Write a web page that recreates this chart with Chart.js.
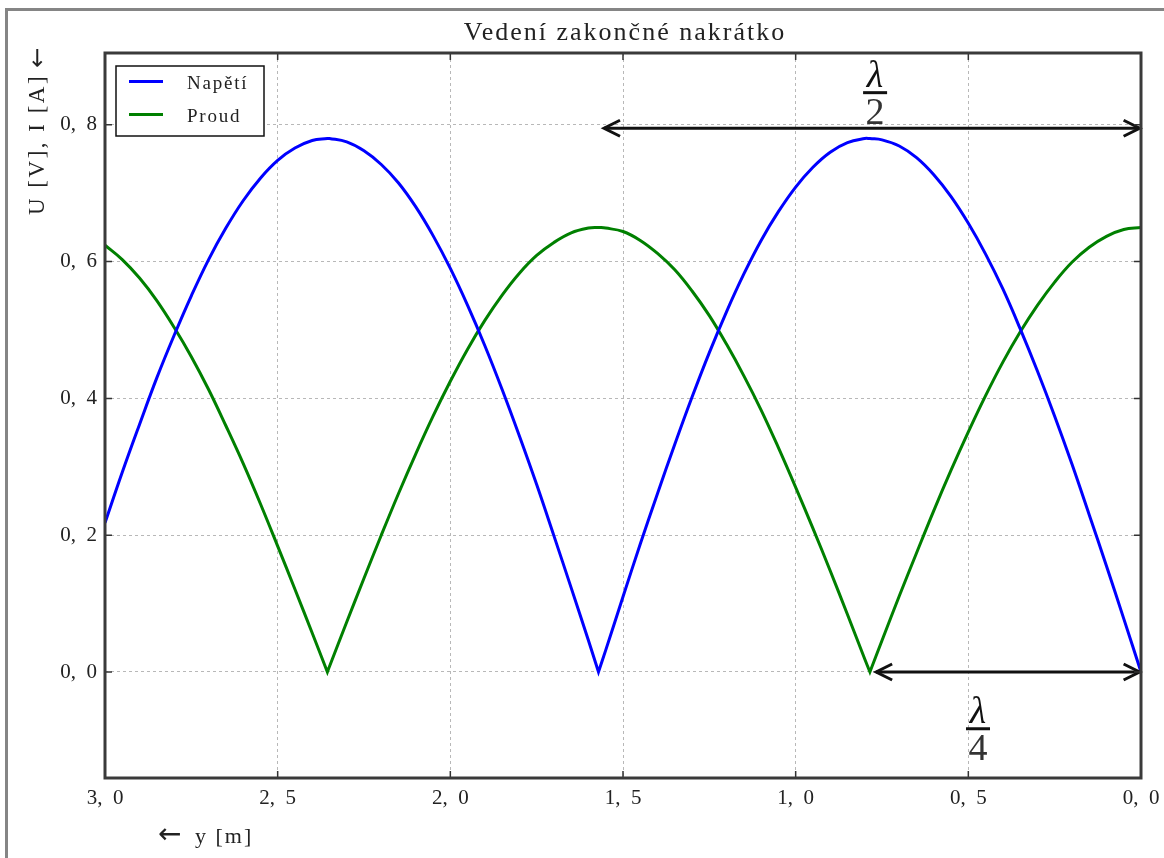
<!DOCTYPE html>
<html>
<head>
<script src="https://cdnjs.cloudflare.com/ajax/libs/Chart.js/4.4.1/chart.umd.min.js"></script>
<style>
  body { margin: 0; background: #fff; }
  #wrap { position: relative; width: 1164px; height: 858px; overflow: hidden; background: #fff; }
  #frame {
    position: absolute; left: 5px; top: 8px; width: 1200px; height: 900px;
    border-top: 3px solid #858585; border-left: 3px solid #858585; pointer-events: none;
  }
</style>
</head>
<body>
<div id="wrap">
  <canvas id="chart" width="1164" height="858"></canvas>
  <div id="frame"></div>
</div>
<script>
  // position along the line, y [m]; cusps are listed twice so the spline stays sharp there
  const positions = [
    0, 0.05, 0.1, 0.15, 0.2, 0.25, 0.3, 0.35, 0.4, 0.45, 0.5, 0.55, 0.6, 0.65, 0.7, 0.75,
    0.785, 0.785,
    0.8, 0.85, 0.9, 0.95, 1.0, 1.05, 1.1, 1.15, 1.2, 1.25, 1.3, 1.35, 1.4, 1.45, 1.5, 1.55,
    1.571, 1.571,
    1.6, 1.65, 1.7, 1.75, 1.8, 1.85, 1.9, 1.95, 2.0, 2.05, 2.1, 2.15, 2.2, 2.25, 2.3, 2.35,
    2.356, 2.356,
    2.4, 2.45, 2.5, 2.55, 2.6, 2.65, 2.7, 2.75, 2.8, 2.85, 2.9, 2.95, 3.0
  ];
  // Napětí [V]
  const voltage = [
    0.000, 0.078, 0.155, 0.230, 0.304, 0.374, 0.440, 0.502, 0.560, 0.611, 0.656, 0.695, 0.727, 0.752, 0.769, 0.778,
    0.780, 0.780,
    0.780, 0.774, 0.760, 0.738, 0.709, 0.673, 0.631, 0.582, 0.527, 0.467, 0.402, 0.333, 0.261, 0.187, 0.110, 0.032,
    0.000, 0.000,
    0.046, 0.123, 0.199, 0.274, 0.345, 0.413, 0.477, 0.536, 0.590, 0.638, 0.680, 0.715, 0.742, 0.762, 0.775, 0.780,
    0.780, 0.780,
    0.777, 0.766, 0.748, 0.722, 0.689, 0.649, 0.603, 0.550, 0.492, 0.430, 0.362, 0.292, 0.218
  ];
  // Proud [A]
  const current = [
    0.650, 0.647, 0.637, 0.621, 0.599, 0.570, 0.536, 0.497, 0.453, 0.404, 0.351, 0.295, 0.236, 0.174, 0.111, 0.046,
    0.000, 0.000,
    0.019, 0.084, 0.148, 0.210, 0.270, 0.328, 0.383, 0.433, 0.479, 0.521, 0.557, 0.588, 0.612, 0.631, 0.644, 0.649,
    0.650, 0.650,
    0.649, 0.642, 0.628, 0.609, 0.583, 0.551, 0.514, 0.472, 0.425, 0.374, 0.319, 0.261, 0.200, 0.137, 0.073, 0.008,
    0.000, 0.000,
    0.057, 0.121, 0.184, 0.246, 0.305, 0.360, 0.413, 0.461, 0.504, 0.543, 0.576, 0.603, 0.624
  ];
  const seriesNames = ['Napětí', 'Proud'];
  const seriesColors = ['#0000ff', '#008000'];
  const xTicks = [0, 0.5, 1.0, 1.5, 2.0, 2.5, 3.0];
  const yTicks = [0, 0.2, 0.4, 0.6, 0.8];

  // annotations in data units
  const halfArrow = { from: 1.555, to: 0.004, at: 0.795 };
  const quarterArrow = { from: 0.767, to: 0.004, at: 0.0 };
  const halfLabel = { x: 0.770, y: 0.847, den: '2' };
  const quarterLabel = { x: 0.472, y: -0.083, den: '4' };

  const serif = '"Liberation Serif", "DejaVu Serif", serif';
  const arrowFont = '"DejaVu Sans", sans-serif';
  const fmt = v => v.toFixed(1).replace('.', ',\u2002');

  function arrowHead(ctx, tx, ty, dir) {
    ctx.beginPath();
    ctx.moveTo(tx - dir * 16, ty - 8);
    ctx.lineTo(tx, ty);
    ctx.lineTo(tx - dir * 16, ty + 8);
    ctx.stroke();
  }

  function drawArrow(ctx, x, y, a) {
    const x1 = x.getPixelForValue(a.from), x2 = x.getPixelForValue(a.to);
    const py = y.getPixelForValue(a.at);
    ctx.strokeStyle = '#111';
    ctx.lineWidth = 3;
    ctx.lineJoin = 'miter';
    ctx.beginPath();
    ctx.moveTo(x1, py);
    ctx.lineTo(x2, py);
    ctx.stroke();
    arrowHead(ctx, x1, py, -1);
    arrowHead(ctx, x2, py, 1);
  }

  function drawFrac(ctx, x, y, l) {
    const cx = x.getPixelForValue(l.x), by = y.getPixelForValue(l.y);
    ctx.fillStyle = '#111';
    ctx.font = 'italic 38px ' + serif;
    ctx.textAlign = 'center';
    ctx.textBaseline = 'alphabetic';
    ctx.fillText('λ', cx, by - 6);
    ctx.fillRect(cx - 12, by - 1.5, 24, 3);
    ctx.fillStyle = '#333';
    ctx.font = '38px ' + serif;
    ctx.fillText(l.den, cx, by + 31);
  }

  const overlay = {
    id: 'overlay',
    afterDatasetsDraw(chart) {
      const { ctx, scales: { x, y } } = chart;
      ctx.save();
      drawArrow(ctx, x, y, halfArrow);
      drawArrow(ctx, x, y, quarterArrow);
      drawFrac(ctx, x, y, halfLabel);
      drawFrac(ctx, x, y, quarterLabel);
      ctx.restore();
    },
    afterDraw(chart) {
      const { ctx, chartArea: a, scales: { x, y } } = chart;
      ctx.save();

      // inward ticks
      ctx.strokeStyle = '#333';
      ctx.lineWidth = 1.5;
      ctx.beginPath();
      xTicks.forEach(v => {
        const px = x.getPixelForValue(v);
        ctx.moveTo(px, a.bottom); ctx.lineTo(px, a.bottom - 7);
        ctx.moveTo(px, a.top); ctx.lineTo(px, a.top + 7);
      });
      yTicks.forEach(v => {
        const py = y.getPixelForValue(v);
        ctx.moveTo(a.left, py); ctx.lineTo(a.left + 7, py);
        ctx.moveTo(a.right, py); ctx.lineTo(a.right - 7, py);
      });
      ctx.stroke();

      // axes frame
      ctx.strokeStyle = '#3a3a3a';
      ctx.lineWidth = 3;
      ctx.strokeRect(a.left, a.top, a.right - a.left, a.bottom - a.top);

      // legend
      ctx.fillStyle = '#fff';
      ctx.fillRect(116, 66, 148, 70);
      ctx.strokeStyle = '#111';
      ctx.lineWidth = 1.5;
      ctx.strokeRect(116, 66, 148, 70);
      ctx.font = '19px ' + serif;
      ctx.textAlign = 'left';
      ctx.textBaseline = 'alphabetic';
      ctx.letterSpacing = '1.8px';
      seriesNames.forEach((name, i) => {
        const ly = 81.5 + i * 33;
        ctx.strokeStyle = seriesColors[i];
        ctx.lineWidth = 3;
        ctx.beginPath();
        ctx.moveTo(129, ly); ctx.lineTo(163, ly);
        ctx.stroke();
        ctx.fillStyle = '#222';
        ctx.fillText(name, 187, ly + 7.5);
      });

      // title
      ctx.font = '26px ' + serif;
      ctx.textAlign = 'center';
      ctx.letterSpacing = '2px';
      ctx.fillStyle = '#222';
      ctx.fillText('Vedení zakončné nakrátko', (a.left + a.right) / 2 + 2, 40);

      // x label
      ctx.textAlign = 'left';
      ctx.letterSpacing = '0px';
      ctx.font = '28px ' + arrowFont;
      ctx.fillText('←', 158, 843);
      ctx.font = '22px ' + serif;
      ctx.letterSpacing = '2px';
      ctx.fillText('y [m]', 195, 843);

      // y label, reading bottom to top
      ctx.translate(44, 215);
      ctx.rotate(-Math.PI / 2);
      ctx.font = '23px ' + serif;
      ctx.letterSpacing = '2.5px';
      const txt = 'U [V], I [A]';
      ctx.fillText(txt, 0, 0);
      const w = ctx.measureText(txt).width;
      ctx.letterSpacing = '0px';
      ctx.font = '24px ' + arrowFont;
      ctx.fillText('←', w + 6, 1);

      ctx.restore();
    }
  };

  const datasets = [voltage, current].map((vals, i) => ({
    label: seriesNames[i],
    data: positions.map((p, j) => ({ x: p, y: vals[j] })),
    borderColor: seriesColors[i],
    borderWidth: 3,
    pointRadius: 0,
    tension: 0.4,
    fill: false
  }));

  const tickFont = { family: serif, size: 21 };
  const gridOpts = { color: '#b8b8b8', lineWidth: 1, drawTicks: false };

  new Chart(document.getElementById('chart'), {
    type: 'line',
    data: { datasets },
    options: {
      responsive: false,
      animation: false,
      layout: { padding: { top: 53, right: 23, left: 0, bottom: 0 } },
      plugins: { legend: { display: false }, tooltip: { enabled: false } },
      scales: {
        x: {
          type: 'linear',
          reverse: true,
          min: 0,
          max: 3,
          grid: gridOpts,
          border: { display: false, dash: [3, 3] },
          afterBuildTicks: s => { s.ticks = xTicks.map(v => ({ value: v })); },
          afterFit: s => { s.height = 80; },
          ticks: { font: tickFont, color: '#222', padding: 8, maxRotation: 0, callback: fmt }
        },
        y: {
          min: -0.155,
          max: 0.905,
          grid: gridOpts,
          border: { display: false, dash: [3, 3] },
          afterBuildTicks: s => { s.ticks = yTicks.map(v => ({ value: v })); },
          afterFit: s => { s.width = 105; },
          ticks: { font: tickFont, color: '#222', padding: 8, callback: fmt }
        }
      }
    },
    plugins: [overlay]
  });
</script>
</body>
</html>
